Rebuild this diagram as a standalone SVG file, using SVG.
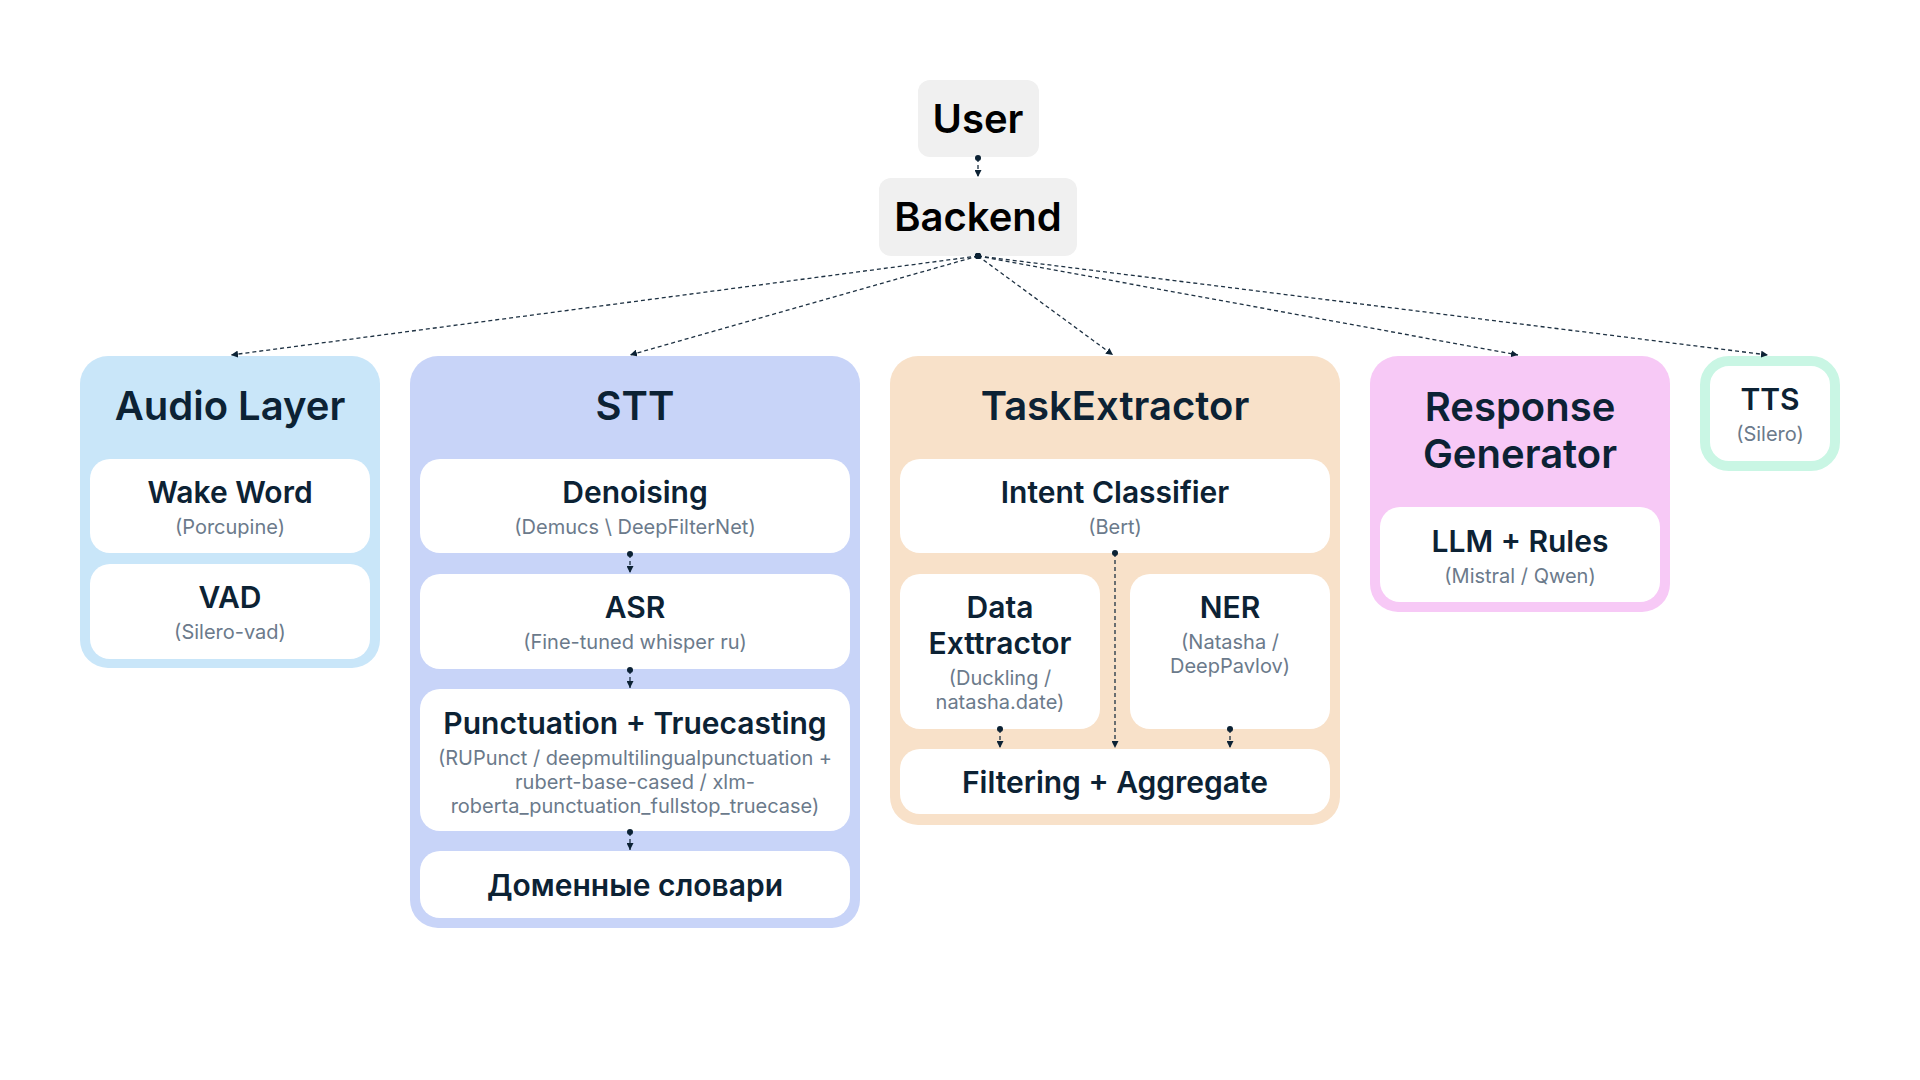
<svg xmlns="http://www.w3.org/2000/svg" width="1920" height="1080" viewBox="0 0 1920 1080">
<style>
text{font-family:Inter,"Noto Sans","Liberation Sans",sans-serif;text-anchor:middle}
.top{font-size:40px;font-weight:600;fill:#000}
.grp{font-size:40px;font-weight:600;fill:#0c2234}
.t{font-size:30px;font-weight:600;fill:#0c2234}
.s{font-size:20px;font-weight:400;fill:#6b7a8b}
.card{fill:#fff}
.edge{fill:none;stroke:#1e3142;stroke-width:1.3;stroke-dasharray:4 3;marker-start:url(#dot);marker-end:url(#arr)}
</style>
<defs>
<marker id="dot" viewBox="0 0 8 8" refX="4" refY="4" markerWidth="6" markerHeight="6" markerUnits="userSpaceOnUse"><circle cx="4" cy="4" r="4" fill="#0c2234"/></marker>
<marker id="arr" viewBox="0 0 10 10" refX="10" refY="5" markerWidth="7" markerHeight="7" markerUnits="userSpaceOnUse" orient="auto"><path d="M0,0 L10,5 L0,10 z" fill="#0c2234"/></marker>
</defs>
<rect width="1920" height="1080" fill="#fff"/>

<g id="user">
<rect x="918" y="80" width="121" height="77" rx="12" fill="#f0f0f0"/>
<text class="top" x="978" y="133">User</text>
</g>
<g id="backend">
<rect x="879" y="178" width="198" height="78" rx="12" fill="#f0f0f0"/>
<text class="top" x="978" y="231">Backend</text>
</g>

<g id="audio-layer">
<rect x="80" y="356" width="300" height="312" rx="28" fill="#c9e6f9"/>
<text class="grp" x="230" y="420">Audio Layer</text>
<g id="wake-word">
<rect class="card" x="90" y="459" width="280" height="94" rx="20"/>
<text class="t" x="230" y="503">Wake Word</text>
<text class="s" x="230" y="534">(Porcupine)</text>
</g>
<g id="vad">
<rect class="card" x="90" y="564" width="280" height="95" rx="20"/>
<text class="t" x="230" y="608">VAD</text>
<text class="s" x="230" y="639">(Silero-vad)</text>
</g>
</g>

<g id="stt">
<rect x="410" y="356" width="450" height="572" rx="28" fill="#c8d4f8"/>
<text class="grp" x="635" y="420">STT</text>
<g id="denoising">
<rect class="card" x="420" y="459" width="430" height="94" rx="20"/>
<text class="t" x="635" y="503">Denoising</text>
<text class="s" x="635" y="534">(Demucs \ DeepFilterNet)</text>
</g>
<g id="asr">
<rect class="card" x="420" y="574" width="430" height="95" rx="20"/>
<text class="t" x="635" y="618">ASR</text>
<text class="s" x="635" y="649">(Fine-tuned whisper ru)</text>
</g>
<g id="punctuation">
<rect class="card" x="420" y="689" width="430" height="142" rx="20"/>
<text class="t" x="635" y="734">Punctuation + Truecasting</text>
<text class="s" x="635" y="765">(RUPunct / deepmultilingualpunctuation +</text>
<text class="s" x="635" y="789">rubert-base-cased / xlm-</text>
<text class="s" x="635" y="813">roberta_punctuation_fullstop_truecase)</text>
</g>
<g id="domain-dicts">
<rect class="card" x="420" y="851" width="430" height="67" rx="20"/>
<text class="t" x="635" y="896">Доменные словари</text>
</g>
</g>

<g id="task-extractor">
<rect x="890" y="356" width="450" height="469" rx="28" fill="#f8e1c9"/>
<text class="grp" x="1115" y="420">TaskExtractor</text>
<g id="intent-classifier">
<rect class="card" x="900" y="459" width="430" height="94" rx="20"/>
<text class="t" x="1115" y="503">Intent Classifier</text>
<text class="s" x="1115" y="534">(Bert)</text>
</g>
<g id="data-extractor">
<rect class="card" x="900" y="574" width="200" height="155" rx="20"/>
<text class="t" x="1000" y="618">Data</text>
<text class="t" x="1000" y="654">Exttractor</text>
<text class="s" x="1000" y="685">(Duckling /</text>
<text class="s" x="1000" y="709">natasha.date)</text>
</g>
<g id="ner">
<rect class="card" x="1130" y="574" width="200" height="155" rx="20"/>
<text class="t" x="1230" y="618">NER</text>
<text class="s" x="1230" y="649">(Natasha /</text>
<text class="s" x="1230" y="673">DeepPavlov)</text>
</g>
<g id="filtering">
<rect class="card" x="900" y="749" width="430" height="65" rx="20"/>
<text class="t" x="1115" y="793">Filtering + Aggregate</text>
</g>
</g>

<g id="response-generator">
<rect x="1370" y="356" width="300" height="256" rx="28" fill="#f7c9f6"/>
<text class="grp" x="1520" y="421">Response</text>
<text class="grp" x="1520" y="468">Generator</text>
<g id="llm-rules">
<rect class="card" x="1380" y="507" width="280" height="95" rx="20"/>
<text class="t" x="1520" y="552">LLM + Rules</text>
<text class="s" x="1520" y="583">(Mistral / Qwen)</text>
</g>
</g>

<g id="tts">
<rect x="1705" y="361" width="130" height="105" rx="24" fill="#fff" stroke="#c9f6e4" stroke-width="10"/>
<text class="t" x="1770" y="410">TTS</text>
<text class="s" x="1770" y="441">(Silero)</text>
</g>

<g id="connectors">
<path class="edge" d="M978,158 L978,177"/>
<path class="edge" d="M978,256 L231,355"/>
<path class="edge" d="M978,256 L630,355"/>
<path class="edge" d="M978,256 L1113,355"/>
<path class="edge" d="M978,256 L1518,355"/>
<path class="edge" d="M978,256 L1768,355"/>
<path class="edge" d="M630,554 L630,573"/>
<path class="edge" d="M630,670 L630,688"/>
<path class="edge" d="M630,832 L630,850"/>
<path class="edge" d="M1115,553 L1115,748"/>
<path class="edge" d="M1000,729 L1000,748"/>
<path class="edge" d="M1230,729 L1230,748"/>
</g>
</svg>
